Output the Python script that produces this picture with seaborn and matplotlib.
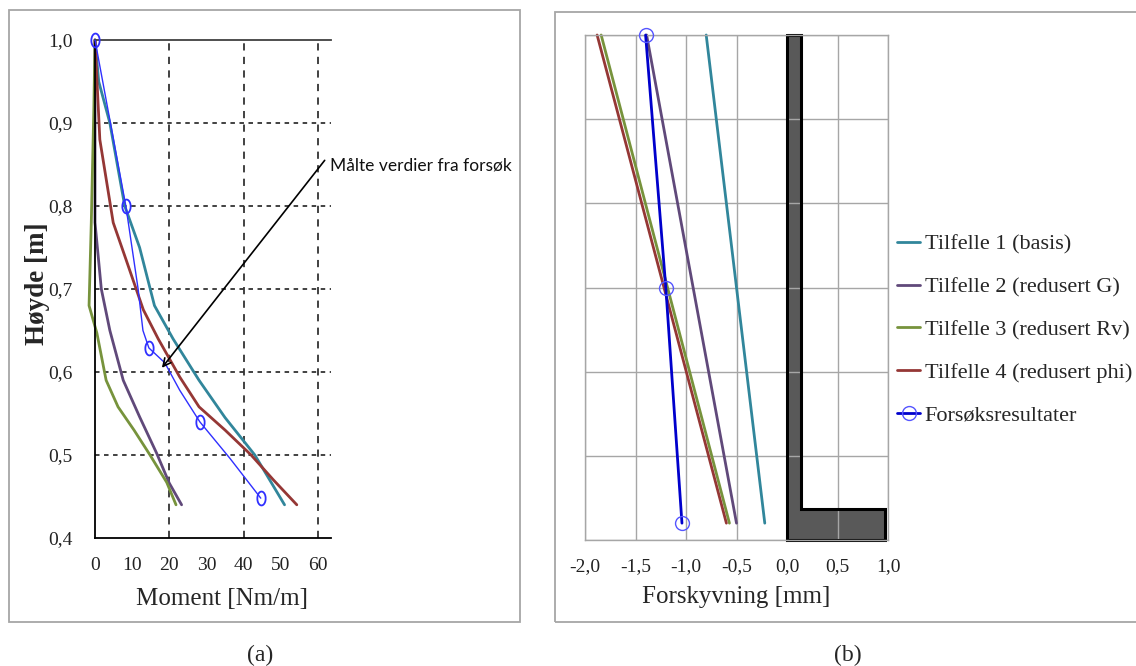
import numpy as np
import pandas as pd
import matplotlib
matplotlib.use("Agg")
import matplotlib.pyplot as plt
from matplotlib.patches import Rectangle
from matplotlib.lines import Line2D
import seaborn as sns

sns.set_style("white")
plt.rcParams['font.family'] = ['Liberation Serif', 'DejaVu Serif']

# ---------------- data: (a) moment vs height ----------------
t1_moment = [0, 1, 4, 8, 12, 16, 21, 28, 35, 43, 51]
t1_height = [1.0, 0.95, 0.90, 0.80, 0.75, 0.68, 0.64, 0.59, 0.545, 0.50, 0.44]

t2_moment = [0, 0, 1.7, 4, 7.6, 12, 16.6, 20, 23.3]
t2_height = [1.0, 0.78, 0.70, 0.65, 0.59, 0.546, 0.502, 0.466, 0.44]

t3_moment = [0, -0.3, -1.0, -1.6, 0.5, 3, 6.2, 10.5, 14.8, 19.3, 21.8]
t3_height = [1.0, 0.92, 0.78, 0.68, 0.647, 0.59, 0.558, 0.53, 0.50, 0.467, 0.44]

t4_moment = [0, 1.3, 4.9, 8, 13, 17, 22.8, 28, 35, 42, 48, 54.3]
t4_height = [1.0, 0.88, 0.78, 0.74, 0.675, 0.64, 0.594, 0.558, 0.53, 0.50, 0.47, 0.44]

meas_moment = [0, 8.3, 11.6, 12.9, 14.5, 18.8, 22.8, 28.2, 36.3, 44.6]
meas_height = [1.0, 0.80, 0.70, 0.65, 0.629, 0.611, 0.578, 0.54, 0.496, 0.448]
meas_marked = [0, 1, 4, 7, 9]

a_xticks = [0, 10, 20, 30, 40, 50, 60]
a_yticks = [0.4, 0.5, 0.6, 0.7, 0.8, 0.9, 1.0]
a_ytick_labels = ["0,4", "0,5", "0,6", "0,7", "0,8", "0,9", "1,0"]

# ---------------- data: (b) displacement ----------------
b_height = [1.0, 0.42]
t1_disp = [-0.80, -0.22]
t2_disp = [-1.39, -0.50]
t3_disp = [-1.84, -0.57]
t4_disp = [-1.88, -0.60]
meas_disp = [-1.40, -1.20, -1.04]
meas_disp_height = [1.0, 0.70, 0.42]

b_xticks = [-2.0, -1.5, -1.0, -0.5, 0.0, 0.5, 1.0]
b_xtick_labels = ["-2,0", "-1,5", "-1,0", "-0,5", "0,0", "0,5", "1,0"]

wall_x = [0.0, 0.14, 0.14, 0.97, 0.97, 0.0, 0.0]
wall_y = [1.0, 1.0, 0.437, 0.437, 0.4, 0.4, 1.0]

labels = ["Tilfelle 1 (basis)", "Tilfelle 2 (redusert G)", "Tilfelle 3 (redusert Rv)",
          "Tilfelle 4 (redusert phi)", "Forsøksresultater"]

teal = '#31869B'
purple = '#60497A'
green = '#77933C'
red = '#953735'
blue_a = '#2F2FFF'
blue_b = '#0000CC'
blue_mk = '#5555FF'

W, H = 1136, 666
fig = plt.figure(figsize=(W / 100, H / 100), dpi=100)

def px_axes(x0, y0, x1, y1):
    return fig.add_axes([x0 / W, 1 - y1 / H, (x1 - x0) / W, (y1 - y0) / H])

# frames
fig.add_artist(Rectangle((9 / W, 1 - 622 / H), (520 - 9) / W, (622 - 10) / H,
                         transform=fig.transFigure, fill=False, ec='#a6a6a6', lw=1.3))
fig.add_artist(Rectangle((555 / W, 1 - 622 / H), (1150 - 555) / W, (622 - 12) / H,
                         transform=fig.transFigure, fill=False, ec='#a6a6a6', lw=1.3))

# ---------------- panel (a) ----------------
axa = px_axes(95, 40, 331, 538)
axa.set_xlim(0, 63.5)
axa.set_ylim(0.4, 1.0)

for mx, hy, col in [(t1_moment, t1_height, teal), (t2_moment, t2_height, purple),
                    (t3_moment, t3_height, green), (t4_moment, t4_height, red)]:
    df = pd.DataFrame({"m": mx, "h": hy})
    sns.lineplot(data=df, x="m", y="h", sort=False, estimator=None, color=col,
                 lw=2.0, ax=axa)
    axa.lines[-1].set_clip_on(False)

ell = [(0.6 * np.cos(t), np.sin(t)) for t in np.linspace(0, 2 * np.pi, 30)]
dfm = pd.DataFrame({"m": meas_moment, "h": meas_height})
sns.lineplot(data=dfm, x="m", y="h", sort=False, estimator=None, color=blue_a,
             lw=1.0, marker=ell, markersize=10, markevery=meas_marked,
             markerfacecolor='none', markeredgecolor=blue_a, markeredgewidth=1.3, ax=axa)
axa.lines[-1].set_clip_on(False)
axa.lines[-1].set_zorder(3)

for xv in [20, 40, 60]:
    axa.axvline(xv, color='#333333', lw=1.3, ls=(0, (4, 3.5)), zorder=1)
for yv in [0.5, 0.6, 0.7, 0.8, 0.9]:
    axa.axhline(yv, color='#333333', lw=1.3, ls=(0, (2.5, 2.5)), zorder=1)

for s in ['left', 'bottom']:
    axa.spines[s].set_color('black')
    axa.spines[s].set_linewidth(1.3)
axa.spines['top'].set_color('#404040')
axa.spines['top'].set_linewidth(1.3)
axa.spines['right'].set_visible(False)

axa.set_xticks(a_xticks)
axa.set_xticklabels([str(v) for v in a_xticks])
axa.set_yticks(a_yticks)
axa.set_yticklabels(a_ytick_labels)
axa.tick_params(axis='both', length=0, labelsize=14, colors='#222222')
axa.tick_params(axis='x', pad=14)
axa.tick_params(axis='y', pad=16)

axa.set_xlabel("Moment [Nm/m]", fontsize=18)
axa.xaxis.set_label_coords(0.538, -0.1)
axa.set_ylabel("Høyde [m]", fontsize=19.5, fontweight='bold')
axa.yaxis.set_label_coords(-0.19, 0.51)

axa.annotate("", xy=(18.0, 0.605), xytext=(61.8, 0.855), annotation_clip=False,
             arrowprops=dict(arrowstyle='->', color='black', lw=1.2,
                             shrinkA=0, shrinkB=0, mutation_scale=14))
axa.text(63.3, 0.849, "Målte verdier fra forsøk", fontsize=12.5, family=['Lato', 'DejaVu Sans'],
         ha='left', va='center', color='#111111', clip_on=False)

# ---------------- panel (b) ----------------
axb = px_axes(585, 35, 888, 540)
axb.set_xlim(-2.0, 1.0)
axb.set_ylim(0.4, 1.0)

axb.fill(wall_x, wall_y, facecolor='#595959', edgecolor='none', zorder=1)
axb.plot(wall_x, wall_y, color='black', lw=2.2, zorder=1.7, clip_on=False,
         solid_joinstyle='miter')

for dx, col, lab in [(t1_disp, teal, labels[0]), (t2_disp, purple, labels[1]),
                     (t3_disp, green, labels[2]), (t4_disp, red, labels[3])]:
    df = pd.DataFrame({"d": dx, "h": b_height})
    sns.lineplot(data=df, x="d", y="h", sort=False, estimator=None, color=col,
                 lw=2.0, ax=axb, zorder=2)

dfb = pd.DataFrame({"d": meas_disp, "h": meas_disp_height})
sns.lineplot(data=dfb, x="d", y="h", sort=False, estimator=None, color=blue_b,
             lw=2.0, marker='o', markersize=10, markerfacecolor='none',
             markeredgecolor=blue_mk, markeredgewidth=1.0, ax=axb, zorder=3)
for ln in axb.lines:
    ln.set_clip_on(False)

axb.set_xticks(b_xticks)
axb.set_xticklabels(b_xtick_labels)
axb.set_yticks([0.4, 0.5, 0.6, 0.7, 0.8, 0.9, 1.0])
axb.set_yticklabels([])
axb.grid(True, color='#a6a6a6', lw=1.0)
axb.set_axisbelow('line')
for s in axb.spines.values():
    s.set_color('#a6a6a6')
    s.set_linewidth(1.0)
axb.tick_params(axis='both', length=0, labelsize=14, colors='#222222')
axb.tick_params(axis='x', pad=13)
axb.set_xlabel("Forskyvning [mm]", fontsize=18)
axb.xaxis.set_label_coords(0.50, -0.091)
axb.set_ylabel("")

handles = [Line2D([], [], color=teal, lw=2), Line2D([], [], color=purple, lw=2),
           Line2D([], [], color=green, lw=2), Line2D([], [], color=red, lw=2),
           Line2D([], [], color=blue_b, lw=2, marker='o', markersize=10,
                  markerfacecolor='none', markeredgecolor=blue_mk, markeredgewidth=1.0)]
fig.legend(handles, labels, loc='upper left', bbox_to_anchor=(897 / W, 1 - 234 / H),
           frameon=False, fontsize=16, labelspacing=1.0, handlelength=1.05,
           handletextpad=0.2, borderpad=0, borderaxespad=0)

fig.text(260 / W, 1 - 655 / H, "(a)", ha='center', va='center', fontsize=17)
fig.text(848 / W, 1 - 655 / H, "(b)", ha='center', va='center', fontsize=17)

fig.savefig("out.png", dpi=100)
